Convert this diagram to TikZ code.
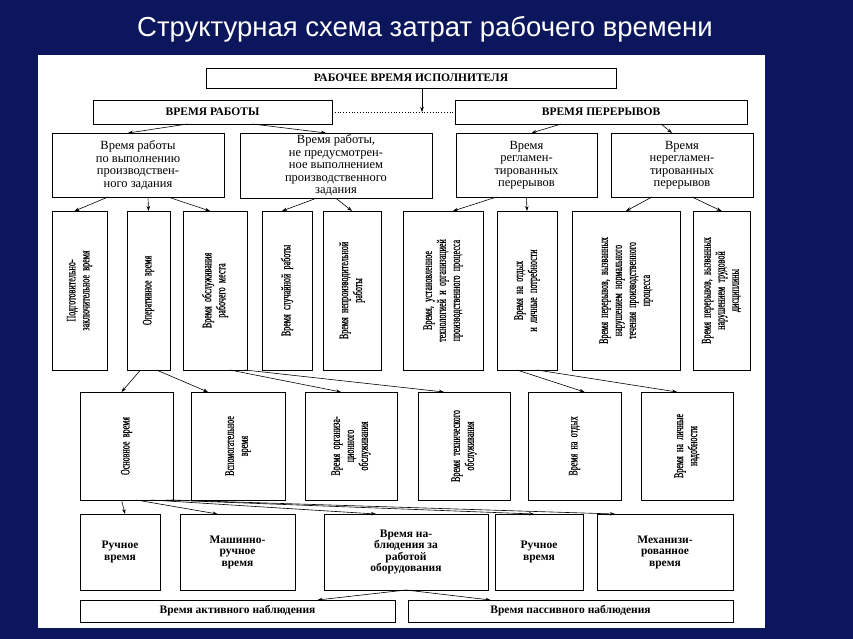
\documentclass[tikz,border=0pt]{standalone}
\usepackage{fontspec}
\setmainfont{Liberation Serif}
\newfontfamily\titlefont{Liberation Sans}
\newfontfamily\cond[FakeStretch=0.62,FakeBold=0.6,WordSpace=0.4]{Liberation Serif}
\usetikzlibrary{arrows.meta}
\definecolor{bgblue}{RGB}{12,22,92}
\tikzset{
  box/.style={draw=black, line width=0.8pt, fill=white, inner sep=2pt, outer sep=0pt, align=center},
  capbox/.style={box, font=\bfseries\fontsize{11.5}{12}\selectfont},
  l2box/.style={box, font=\fontsize{12.5}{12.5}\selectfont},
  l5box/.style={box, font=\bfseries\fontsize{11.5}{11.5}\selectfont},
  vtext/.style={rotate=90, align=center, inner sep=0pt, font=\cond\fontsize{13}{14}\selectfont},
  arr/.style={-{Stealth[length=5pt,width=3.5pt]}, line width=0.6pt},
}
\newcommand\bx[7]{\node[#6, anchor=north west, minimum width={#4-#2}, minimum height={#5-#3}] (#1) at (#2,#3) {#7};}
\newcommand\vbx[7]{\node[box, anchor=north west, minimum width={#4-#2}, minimum height={#5-#3}] (#1) at (#2,#3) {};
  \node[vtext, text width=#6] (#1t) at (#1) {#7};}
\begin{document}
\begin{tikzpicture}[x=1pt,y=-1pt]
\fill[bgblue] (0,0) rectangle (853,639);
\node[font=\titlefont\fontsize{27.5}{29}\selectfont, text=white] (title) at (425,29) {Структурная схема затрат рабочего времени};
\fill[white] (38,55) rectangle (765,628);
% top
\bx{top}{206}{68}{616}{88}{capbox}{РАБОЧЕЕ ВРЕМЯ ИСПОЛНИТЕЛЯ}
\bx{work}{93}{100}{332}{124}{capbox}{ВРЕМЯ РАБОТЫ}
\bx{brk}{455}{100}{747}{124}{capbox}{ВРЕМЯ ПЕРЕРЫВОВ}
\coordinate (mid) at (422,112);
\draw[arr] (top.south -| mid) -- (mid);
\draw[dotted, line width=0.8pt] (work.east) -- (brk.west);
% level 2
\bx{a}{52}{133}{224}{197}{l2box}{Время работы\\по выполнению\\производствен-\\ного задания}
\bx{b}{240}{133}{432}{197}{l2box}{Время работы,\\не предусмотрен-\\ное выполнением\\производственного\\задания}
\bx{c}{456}{133}{597}{197}{l2box}{Время\\регламен-\\тированных\\перерывов}
\bx{d}{611}{133}{753}{197}{l2box}{Время\\нерегламен-\\тированных\\перерывов}
\draw[arr] ([xshift=-25pt]work.south) -- ([xshift=-10pt]a.north);
\draw[arr] ([xshift=40pt]work.south) -- ([xshift=-10pt]b.north);
\draw[arr] ([xshift=-40pt]brk.south) -- ([xshift=5pt]c.north);
\draw[arr] ([xshift=60pt]brk.south) -- ([xshift=-10pt]d.north);
% level 3
\vbx{p1}{52}{211}{107}{370}{148pt}{Подготовительно-\\заключительное время}
\vbx{p2}{127}{211}{170}{370}{148pt}{Оперативное время}
\vbx{p3}{183}{211}{247}{370}{148pt}{Время обслуживания\\рабочего места}
\vbx{p4}{262}{211}{312}{370}{148pt}{Время случайной работы}
\vbx{p5}{323}{211}{381}{370}{148pt}{Время непроизводительной\\работы}
\vbx{p6}{403}{211}{483}{370}{148pt}{Время, установленное\\технологией и организацией\\производственного процесса}
\vbx{p7}{497}{211}{557}{370}{148pt}{Время на отдых\\и личные потребности}
\vbx{p8}{572}{211}{680}{370}{148pt}{Время перерывов, вызванных\\нарушением нормального\\течения производственного\\процесса}
\vbx{p9}{693}{211}{750}{370}{148pt}{Время перерывов, вызванных\\нарушением трудовой\\дисциплины}
\draw[arr] ([xshift=-30pt]a.south) -- ([xshift=-5pt]p1.north);
\draw[arr] ([xshift=10pt]a.south) -- (p2.north);
\draw[arr] ([xshift=30pt]a.south) -- ([xshift=-5pt]p3.north);
\draw[arr] ([xshift=-20pt]b.south) -- ([xshift=-5pt]p4.north);
\draw[arr] ([xshift=0pt]b.south) -- ([xshift=0pt]p5.north);
\draw[arr] ([xshift=-30pt]c.south) -- ([xshift=10pt]p6.north);
\draw[arr] ([xshift=0pt]c.south) -- ([xshift=0pt]p7.north);
\draw[arr] ([xshift=-30pt]d.south) -- ([xshift=0pt]p8.north);
\draw[arr] ([xshift=10pt]d.south) -- ([xshift=0pt]p9.north);
% level 4
\vbx{q1}{80}{392}{173}{500}{100pt}{Основное время}
\vbx{q2}{191}{392}{285}{500}{100pt}{Вспомогательное\\время}
\vbx{q3}{305}{392}{397}{500}{100pt}{Время организа-\\ционного\\обслуживания}
\vbx{q4}{418}{392}{510}{500}{100pt}{Время технического\\обслуживания}
\vbx{q5}{528}{392}{621}{500}{100pt}{Время на отдых}
\vbx{q6}{641}{392}{733}{500}{100pt}{Время на личные\\надобности}
\draw[arr] ([xshift=-8pt]p2.south) -- ([xshift=-5pt]q1.north);
\draw[arr] ([xshift=8pt]p2.south) -- ([xshift=-30pt]q2.north);
\draw[arr] ([xshift=15pt]p3.south) -- ([xshift=-10pt]q3.north);
\draw[arr] ([xshift=30pt]p3.south) -- ([xshift=-20pt]q4.north);
\draw[arr] ([xshift=-10pt]p7.south) -- ([xshift=10pt]q5.north);
\draw[arr] ([xshift=10pt]p7.south) -- ([xshift=-10pt]q6.north);
% level 5
\bx{r1}{80}{514}{160}{590}{l5box}{Ручное\\время}
\bx{r2}{180}{514}{295}{590}{l5box}{Машинно-\\ручное\\время}
\bx{r3}{324}{514}{488}{590}{l5box}{Время на-\\блюдения за\\работой\\оборудования}
\bx{r4}{495}{514}{583}{590}{l5box}{Ручное\\время}
\bx{r5}{597}{514}{733}{590}{l5box}{Механизи-\\рованное\\время}
\draw[arr] ([xshift=-5pt]q1.south) -- ([xshift=5pt]r1.north);
\draw[arr] ([xshift=10pt]q1.south) -- ([xshift=-20pt]r2.north);
\draw[arr] ([xshift=25pt]q1.south) -- ([xshift=-30pt]r3.north);
\draw[arr] ([xshift=40pt]q1.south) -- ([xshift=-5pt]r4.north);
\draw[arr] ([xshift=45pt]q1.south) -- ([xshift=-50pt]r5.north);
% level 6
\bx{s1}{80}{600}{395}{622}{l5box}{Время активного наблюдения}
\bx{s2}{408}{600}{733}{622}{l5box}{Время пассивного наблюдения}
\draw[arr] (r3.south) -- ([xshift=80pt]s1.north);
\draw[arr] (r3.south) -- ([xshift=-80pt]s2.north);
\end{tikzpicture}
\end{document}
